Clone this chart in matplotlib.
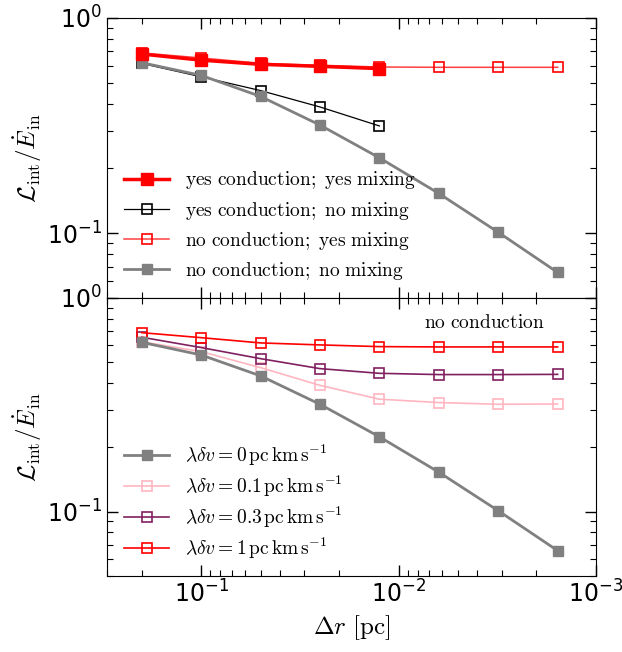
"""Two-panel log-log convergence plot: L_int / E_in vs resolution."""

import matplotlib

matplotlib.use("Agg")
import matplotlib.pyplot as plt
from matplotlib.font_manager import FontProperties

plt.rcParams["mathtext.fontset"] = "dejavusans"
plt.rcParams["axes.unicode_minus"] = False

dr = [0.2, 0.1, 0.05, 0.025, 0.0125, 0.00625, 0.003125, 0.0015625]

# top panel
yes_cond_yes_mix = [0.68, 0.637, 0.609, 0.596, 0.582]
yes_cond_no_mix = [0.615, 0.533, 0.460, 0.386, 0.315]
no_cond_yes_mix = [0.688, 0.652, 0.616, 0.603, 0.592, 0.590, 0.590, 0.590]
no_cond_no_mix = [0.62, 0.541, 0.432, 0.318, 0.224, 0.153, 0.101, 0.0657]

# bottom panel (no conduction), by lambda * delta v
mix_0p1 = [0.624, 0.561, 0.472, 0.390, 0.336, 0.324, 0.318, 0.319]
mix_0p3 = [0.655, 0.586, 0.520, 0.467, 0.444, 0.438, 0.438, 0.439]
mix_1 = no_cond_yes_mix

cm = FontProperties(size=14, math_fontfamily="cm")

fig = plt.figure(figsize=(6.22, 6.52), dpi=100)
ax1 = fig.add_axes([0.172, 0.543, 0.786, 0.4294])
ax2 = fig.add_axes([0.172, 0.1166, 0.786, 0.4264])

for ax in (ax1, ax2):
    ax.set_xscale("log")
    ax.set_yscale("log")
    ax.set_xlim(0.3, 1e-3)
    ax.set_ylim(0.05, 1.0)
    ax.tick_params(which="both", direction="in", top=True, right=True, labelsize=17)
    ax.tick_params(which="major", length=8, width=1)
    ax.tick_params(which="minor", length=4, width=0.8)
    ax.set_ylabel(r"$\mathcal{L}_{\rm int}/\dot{E}_{\rm in}$", fontsize=18,
                  math_fontfamily="cm", labelpad=2)

ax1.tick_params(labelbottom=False)

ax1.plot(dr[:5], yes_cond_yes_mix, color="red", lw=2.5, marker="s", ms=8,
         label=r"$\mathrm{yes\ conduction;\ yes\ mixing}$", zorder=4)
ax1.plot(dr[:5], yes_cond_no_mix, color="black", lw=0.9, marker="s", ms=7, mfc="none",
         mew=1.2, label=r"$\mathrm{yes\ conduction;\ no\ mixing}$", zorder=3)
ax1.plot(dr, no_cond_yes_mix, color="#ff4040", lw=1.1, marker="s", ms=7, mfc="none",
         mec="red", mew=1.2, label=r"$\mathrm{no\ conduction;\ yes\ mixing}$", zorder=2)
ax1.plot(dr, no_cond_no_mix, color="gray", lw=2, marker="s", ms=7,
         label=r"$\mathrm{no\ conduction;\ no\ mixing}$", zorder=3)
ax1.legend(loc="lower left", frameon=False, prop=cm, handlelength=2.3,
           labelspacing=0.42, bbox_to_anchor=(0.0, -0.005))

unit = r"\,\mathrm{pc\,km\,s^{-1}}"
ax2.plot(dr, no_cond_no_mix, color="gray", lw=2, marker="s", ms=7,
         label=r"$\lambda\delta v = 0" + unit + "$", zorder=3)
ax2.plot(dr, mix_0p1, color="#ffb6c1", lw=1.2, marker="s", ms=7, mfc="none", mew=1.2,
         label=r"$\lambda\delta v = 0.1" + unit + "$", zorder=2)
ax2.plot(dr, mix_0p3, color="#802060", lw=1.2, marker="s", ms=7, mfc="none", mew=1.2,
         label=r"$\lambda\delta v = 0.3" + unit + "$", zorder=2)
ax2.plot(dr, mix_1, color="red", lw=1.2, marker="s", ms=7, mfc="none", mew=1.2,
         label=r"$\lambda\delta v = 1" + unit + "$", zorder=2)
ax2.legend(loc="lower left", frameon=False, prop=cm, handlelength=2.3,
           labelspacing=0.29, bbox_to_anchor=(0.0, -0.01))
ax2.text(0.896, 0.91, r"$\mathrm{no\ conduction}$", transform=ax2.transAxes,
         ha="right", va="center", fontsize=14, math_fontfamily="cm")
ax2.set_xlabel(r"$\Delta r\ [\mathrm{pc}]$", fontsize=18, math_fontfamily="cm", labelpad=4)

fig.savefig("out.png", dpi=100)
